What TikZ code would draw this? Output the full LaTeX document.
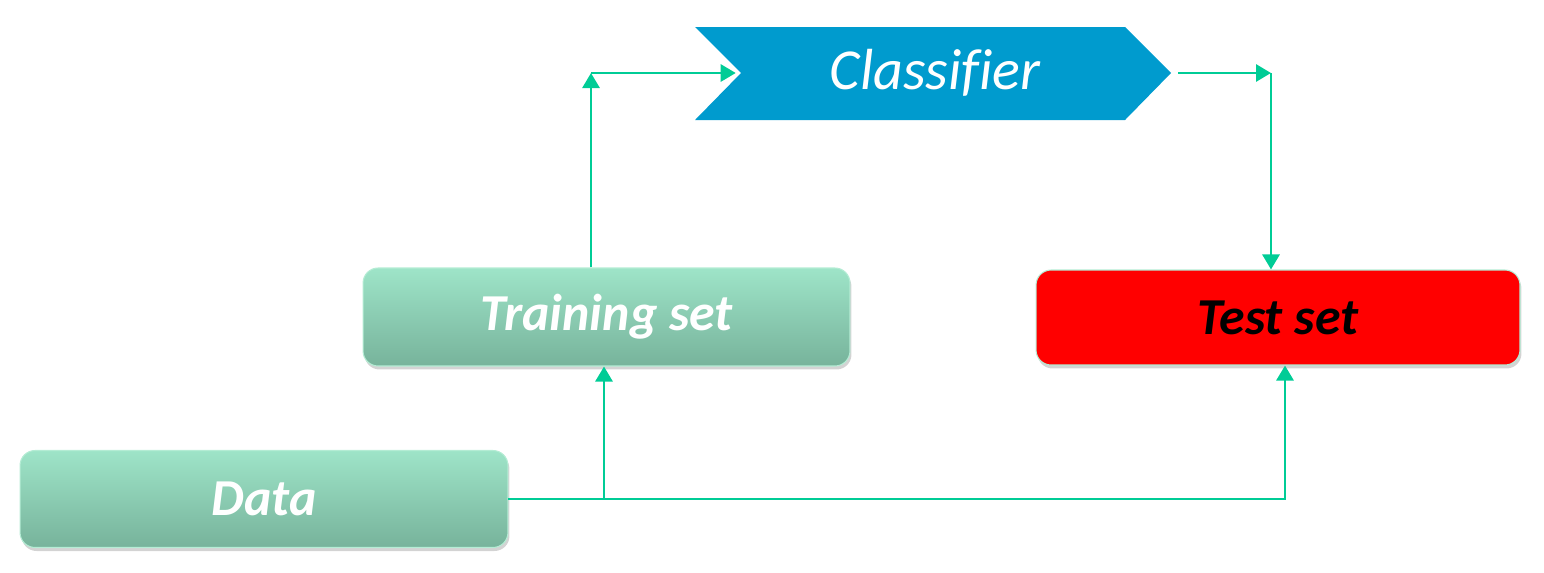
\documentclass[tikz,border=0pt]{standalone}
\usepackage{fontspec}
\setmainfont{Carlito}
\newfontfamily\clffont[Ligatures=NoCommon]{Carlito}
\usetikzlibrary{arrows.meta,shadows}
\definecolor{lnk}{HTML}{00CC96}
\definecolor{gtop}{HTML}{9EE4C8}
\definecolor{gbot}{HTML}{77B39B}
\definecolor{gedge}{HTML}{B4ECD4}
\definecolor{clfblue}{HTML}{009BCE}
\tikzset{
  box/.style={rectangle, rounded corners=0.3cm, draw=gedge, line width=0.6pt,
    font=\fontsize{29.5}{34}\selectfont\bfseries\itshape,
    drop shadow={opacity=0.35, shadow xshift=0.03cm, shadow yshift=-0.07cm}},
  greenbox/.style={box, top color=gtop, bottom color=gbot, text=white},
  redbox/.style={box, fill=red, text=black},
  link/.style={draw=lnk, line width=1.6pt, -{Triangle[length=0.3cm,width=0.34cm]}},
}
\begin{document}
\begin{tikzpicture}[x=0.02cm,y=-0.02cm]
\useasboundingbox (0,0) rectangle (1544,572);
% Classifier chevron
\fill[clfblue] (695,27) -- (1125,27) -- (1171,73) -- (1125,120) -- (695,120) -- (741,73) -- cycle;
\node[text=white, font=\clffont\fontsize{33}{38}\selectfont\itshape] (clf) at (935,73) {Classifier};
\coordinate (notch) at (741,73);
\coordinate (tip) at (1171,73);

\node[greenbox, minimum width=9.74cm, minimum height=1.96cm] (train) at (606.5,317) {Training set};
\node[redbox, minimum width=9.68cm, minimum height=1.9cm] (test) at (1278,317.5) {Test set};
\node[greenbox, minimum width=9.76cm, minimum height=1.94cm] (data) at (264,499) {Data};

\coordinate (trainin) at ([xshift=-0.05cm]train.south);
\coordinate (testin) at ([xshift=0.14cm]test.south);
\coordinate (trainout) at ([xshift=-0.31cm]train.north);
\coordinate (upcorner) at (trainout |- notch);
\coordinate (rcorner) at (1271,73);
\coordinate (split) at (data.east -| trainin);

% Data to test set and training set
\draw[link] (data.east) -- (data.east -| testin) -- (testin);
\draw[link] (split) -- (trainin);
% Training set to classifier
\draw[link] (trainout) -- (upcorner);
\draw[link, shorten >=3pt] (upcorner) -- (notch);
% Classifier to test set
\draw[link, shorten <=4pt] (tip) -- (rcorner);
\draw[link] (rcorner) -- (rcorner |- test.north);
\end{tikzpicture}
\end{document}
